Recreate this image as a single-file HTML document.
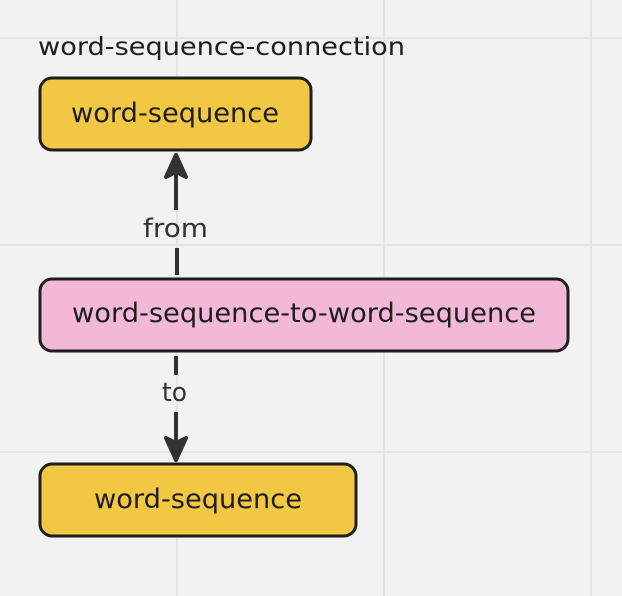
<!DOCTYPE html>
<html><head><style>
body{margin:0;width:622px;height:596px;background:#f2f2f2;overflow:hidden;font-family:"DejaVu Sans","Liberation Sans",sans-serif;}
</style></head><body>
<svg width="622" height="596" viewBox="0 0 622 596" xmlns="http://www.w3.org/2000/svg" style="position:absolute;left:0;top:0" font-family="DejaVu Sans, sans-serif">
<g stroke="#e4e4e4" stroke-width="2">
<line x1="177" y1="0" x2="177" y2="596"/><line x1="384" y1="0" x2="384" y2="596"/><line x1="591" y1="0" x2="591" y2="596"/>
<line x1="0" y1="38" x2="622" y2="38"/><line x1="0" y1="245" x2="622" y2="245"/><line x1="0" y1="452" x2="622" y2="452"/>
</g>
<text x="38" y="55" font-size="25" fill="#1e1e1e" textLength="367" lengthAdjust="spacingAndGlyphs">word-sequence-connection</text>
<rect x="40" y="78" width="271" height="72" rx="12" fill="#f2c744" stroke="#1e1e1e" stroke-width="3"/>
<text x="71" y="122" font-size="27" fill="#1e1e1e" textLength="208" lengthAdjust="spacingAndGlyphs">word-sequence</text>
<rect x="40" y="279" width="528" height="72" rx="12" fill="#f3b8d5" stroke="#1e1e1e" stroke-width="3"/>
<text x="72" y="322" font-size="27" fill="#1e1e1e" textLength="464" lengthAdjust="spacingAndGlyphs">word-sequence-to-word-sequence</text>
<rect x="40" y="464" width="316" height="72" rx="12" fill="#f2c744" stroke="#1e1e1e" stroke-width="3"/>
<text x="94" y="508" font-size="27" fill="#1e1e1e" textLength="208" lengthAdjust="spacingAndGlyphs">word-sequence</text>
<g stroke="#333" stroke-width="4" fill="#333" stroke-linejoin="round">
<line x1="176" y1="170" x2="176" y2="210"/>
<line x1="177" y1="248" x2="177" y2="275"/>
<polygon points="176,155 186,177 176,172 166,177"/>
<line x1="176" y1="356" x2="176" y2="375"/>
<line x1="176" y1="412" x2="176" y2="445"/>
<polygon points="176,460 186,438 176,443 166,438"/>
</g>
<text x="143" y="237" font-size="26" fill="#333" textLength="65" lengthAdjust="spacingAndGlyphs">from</text>
<text x="162" y="401" font-size="26" fill="#333" textLength="25" lengthAdjust="spacingAndGlyphs">to</text>
</svg>
</body></html>
